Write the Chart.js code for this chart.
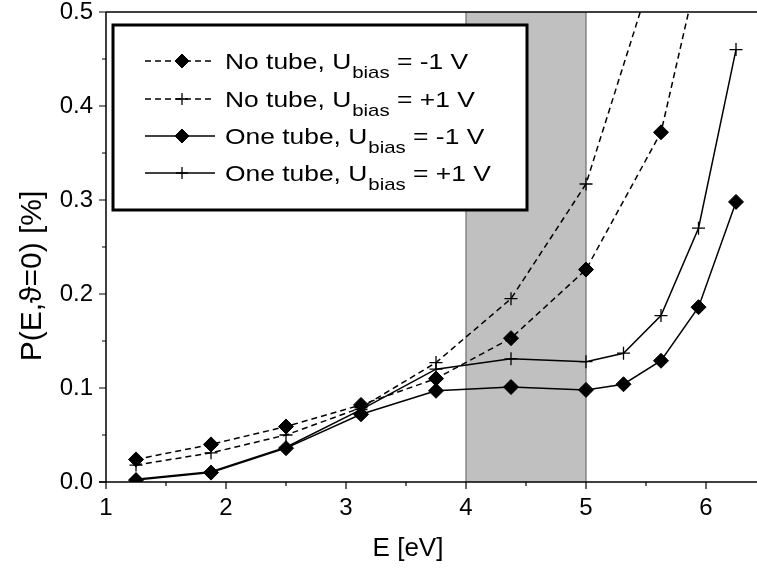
<!DOCTYPE html>
<html>
<head>
<meta charset="utf-8">
<script src="https://cdn.jsdelivr.net/npm/chart.js@4.4.1/dist/chart.umd.min.js"></script>
<style>
  html, body { margin: 0; padding: 0; background: #fff; }
  #wrap { width: 757px; height: 569px; }
</style>
</head>
<body>
<div id="wrap"><canvas id="probChart" width="757" height="569"></canvas></div>
<script>
// photon energy grid [eV]
var energy = [1.25, 1.875, 2.5, 3.125, 3.75, 4.375, 5.0, 5.3125, 5.625, 5.9375, 6.25];
var energyNoTube = [1.25, 1.875, 2.5, 3.125, 3.75, 4.375, 5.0, 5.625, 6.25];

// P(E, theta=0) in %
var noTubeMinus  = [0.024, 0.040, 0.059, 0.082, 0.110, 0.153, 0.226, 0.372, 0.72];
var noTubePlus   = [0.018, 0.031, 0.050, 0.079, 0.127, 0.195, 0.317, 0.57];
var oneTubeMinus = [0.002, 0.010, 0.036, 0.072, 0.097, 0.101, 0.098, 0.104, 0.129, 0.186, 0.298];
var oneTubePlus  = [0.003, 0.011, 0.037, 0.077, 0.120, 0.131, 0.128, 0.137, 0.177, 0.270, 0.460];

var xTicks = [1, 2, 3, 4, 5, 6];
var yTicks = [0.0, 0.1, 0.2, 0.3, 0.4, 0.5];
var shadedRange = [4, 5];

// legend text split as [before subscript, subscript, after]
var legendLabels = [
    ['No tube, U', 'bias', ' = -1 V'],
    ['No tube, U', 'bias', ' = +1 V'],
    ['One tube, U', 'bias', ' = -1 V'],
    ['One tube, U', 'bias', ' = +1 V']
];

var FONT = "'Liberation Sans', Arial, sans-serif";

function pts(xs, ys) {
    return ys.map(function(y, i) { return { x: xs[i], y: y }; });
}

function makeSet(label, xs, ys, dashed, style) {
    return {
        label: label,
        data: pts(xs, ys),
        showLine: true,
        borderColor: '#000',
        backgroundColor: '#000',
        borderWidth: 1.5,
        borderDash: dashed ? [6, 4] : [],
        pointStyle: style,
        pointRadius: style === 'rectRot' ? 7.5 : 6.5,
        pointBorderWidth: style === 'rectRot' ? 1 : 1.3,
        pointBorderColor: '#000',
        pointBackgroundColor: '#000',
        tension: 0
    };
}

// grey energy window behind the curves
var bandPlugin = {
    id: 'band',
    beforeDatasetsDraw: function(chart) {
        var ctx = chart.ctx, a = chart.chartArea, x = chart.scales.x;
        var x0 = x.getPixelForValue(shadedRange[0]);
        var x1 = x.getPixelForValue(shadedRange[1]);
        ctx.save();
        ctx.fillStyle = '#c0c0c0';
        ctx.fillRect(x0, a.top, x1 - x0, a.bottom - a.top);
        ctx.strokeStyle = '#707070';
        ctx.lineWidth = 1.2;
        ctx.beginPath();
        ctx.moveTo(x0, a.top); ctx.lineTo(x0, a.bottom);
        ctx.moveTo(x1, a.top); ctx.lineTo(x1, a.bottom);
        ctx.stroke();
        ctx.restore();
    }
};

// text stretched a little wider, like the legend lettering
function wideText(ctx, str, x, y, sx) {
    ctx.save();
    ctx.translate(x, y);
    ctx.scale(sx, 1);
    ctx.fillText(str, 0, 0);
    ctx.restore();
    return ctx.measureText(str).width * sx;
}

// axis frame, major/minor tick marks, axis titles, legend box
var framePlugin = {
    id: 'frame',
    afterDatasetsDraw: function(chart) {
        var ctx = chart.ctx, a = chart.chartArea;
        var sx = chart.scales.x, sy = chart.scales.y;
        ctx.save();
        ctx.strokeStyle = '#000';
        ctx.lineWidth = 1.5;
        ctx.beginPath();
        ctx.moveTo(a.left, a.top); ctx.lineTo(a.left, a.bottom);
        ctx.moveTo(a.left - 7, a.bottom); ctx.lineTo(a.right, a.bottom);
        ctx.moveTo(a.left, a.top); ctx.lineTo(a.right, a.top);
        ctx.stroke();

        ctx.lineWidth = 1.2;
        ctx.beginPath();
        xTicks.forEach(function(v) {
            var p = sx.getPixelForValue(v);
            ctx.moveTo(p, a.bottom); ctx.lineTo(p, a.bottom + 7);
            var m = v + 0.5;
            if (m < sx.max) {
                var q = sx.getPixelForValue(m);
                ctx.moveTo(q, a.bottom); ctx.lineTo(q, a.bottom + 4);
            }
        });
        yTicks.forEach(function(v, i) {
            var p = sy.getPixelForValue(v);
            ctx.moveTo(a.left, p); ctx.lineTo(a.left - 7, p);
            if (i < yTicks.length - 1) {
                var q = sy.getPixelForValue(v + 0.05);
                ctx.moveTo(a.left, q); ctx.lineTo(a.left - 4, q);
            }
        });
        ctx.stroke();

        // axis titles
        ctx.fillStyle = '#000';
        ctx.font = '26px ' + FONT;
        ctx.textAlign = 'center';
        ctx.textBaseline = 'alphabetic';
        ctx.fillText('E [eV]', 408, 556);
        ctx.save();
        ctx.translate(41, 276);
        ctx.rotate(-Math.PI / 2);
        ctx.font = '30px ' + FONT;
        ctx.fillText('P(E,\u03D1=0) [%]', 0, 0);
        ctx.restore();

        // legend
        var box = { left: 113, top: 25, right: 527, bottom: 210 };
        ctx.fillStyle = '#fff';
        ctx.fillRect(box.left, box.top, box.right - box.left, box.bottom - box.top);
        ctx.lineWidth = 3;
        ctx.strokeStyle = '#000';
        ctx.strokeRect(box.left, box.top, box.right - box.left, box.bottom - box.top);

        var rowY = [61, 99, 136, 173];
        chart.data.datasets.forEach(function(ds, i) {
            var y = rowY[i];
            ctx.save();
            ctx.lineWidth = ds.borderWidth;
            ctx.setLineDash(ds.borderDash);
            ctx.beginPath();
            ctx.moveTo(145, y); ctx.lineTo(215, y);
            ctx.stroke();
            ctx.restore();
            ctx.save();
            ctx.fillStyle = '#000';
            ctx.lineWidth = ds.pointBorderWidth;
            Chart.helpers.drawPoint(ctx, {
                pointStyle: ds.pointStyle,
                radius: ds.pointStyle === 'rectRot' ? 7 : 6,
                borderWidth: ds.pointBorderWidth,
                rotation: 0
            }, 182, y);
            ctx.restore();

            var parts = legendLabels[i];
            var tx = 225, base = y + 8;
            ctx.fillStyle = '#000';
            ctx.textAlign = 'left';
            ctx.font = '22px ' + FONT;
            tx += wideText(ctx, parts[0], tx, base, 1.2);
            ctx.font = '17px ' + FONT;
            tx += wideText(ctx, parts[1], tx + 1, base + 9, 1.2) + 1;
            ctx.font = '22px ' + FONT;
            wideText(ctx, parts[2], tx, base, 1.2);
        });
        ctx.restore();
    }
};

var ctxProb = document.getElementById('probChart').getContext('2d');
var probChart = new Chart(ctxProb, {
    type: 'scatter',
    data: {
        datasets: [
            makeSet('No tube, -1 V', energyNoTube, noTubeMinus, true, 'rectRot'),
            makeSet('No tube, +1 V', energyNoTube, noTubePlus, true, 'cross'),
            makeSet('One tube, -1 V', energy, oneTubeMinus, false, 'rectRot'),
            makeSet('One tube, +1 V', energy, oneTubePlus, false, 'cross')
        ]
    },
    options: {
        responsive: false,
        animation: false,
        devicePixelRatio: 1,
        layout: { autoPadding: false, padding: { top: 12, right: 0, left: 0, bottom: 0 } },
        plugins: {
            legend: { display: false },
            tooltip: { enabled: false }
        },
        scales: {
            x: {
                type: 'linear',
                min: 1,
                max: 6.425,
                grid: { display: false, drawTicks: false },
                border: { display: false },
                afterBuildTicks: function(s) { s.ticks = xTicks.map(function(v) { return { value: v }; }); },
                afterFit: function(s) { s.height = 87; s.paddingLeft = 0; s.paddingRight = 0; },
                ticks: {
                    padding: 12,
                    color: '#000',
                    font: { family: FONT, size: 24 },
                    maxRotation: 0,
                    callback: function(v) { return String(v); }
                }
            },
            y: {
                type: 'linear',
                min: 0,
                max: 0.5,
                grid: { display: false, drawTicks: false },
                border: { display: false },
                afterBuildTicks: function(s) { s.ticks = yTicks.map(function(v) { return { value: v }; }); },
                afterFit: function(s) { s.width = 106; s.paddingTop = 0; s.paddingBottom = 0; },
                ticks: {
                    padding: 13,
                    color: '#000',
                    font: { family: FONT, size: 24 },
                    callback: function(v) { return v.toFixed(1); }
                }
            }
        }
    },
    plugins: [bandPlugin, framePlugin]
});
</script>
</body>
</html>
